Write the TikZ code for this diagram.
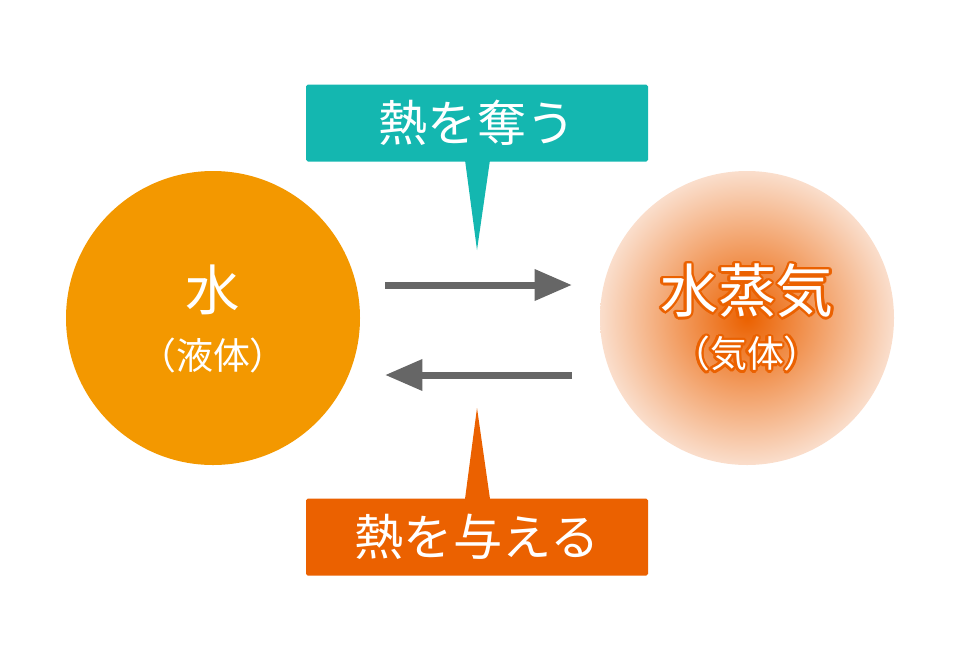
\documentclass[tikz,border=0pt]{standalone}
\usepackage{fontspec}
\setmainfont{Noto Sans CJK JP}
\usepackage[copies]{contour}
\contourlength{1.4pt}
\definecolor{water}{RGB}{243,152,0}
\definecolor{steam}{RGB}{235,97,0}
\definecolor{haze}{RGB}{250,222,204}
\definecolor{teal}{RGB}{20,183,176}
\definecolor{arrowgray}{RGB}{102,102,102}
\tikzset{
    label box/.style={minimum width=342*0.02cm, minimum height=77*0.02cm, rounded corners=1pt, text=white, font=\fontsize{28}{28}\selectfont},
    flow/.style={line width=7*0.02cm, arrowgray, -{Triangle[length=0.75cm,width=0.6cm]}}
}
\usetikzlibrary{arrows.meta}
\begin{document}
\begin{tikzpicture}[x=0.02cm,y=-0.02cm]
    \useasboundingbox (0,0) rectangle (960,660);
    % liquid
    \fill[water] (213,318) circle (147);
    \node (water) at (213,290) {\color{white}\fontsize{31}{31}\selectfont 水};
    \node (waterstate) at (213,355) {\color{white}\fontsize{21}{21}\selectfont （液体）};
    % vapour
    \shade[inner color=steam, outer color=haze] (747,318) circle (147);
    \node (steam) at (747,292) {\fontsize{33}{33}\selectfont\contour{steam}{\color{white}水蒸気}};
    \node (steamstate) at (747,355) {\fontsize{21}{21}\selectfont\contour{steam}{\color{white}（気体）}};
    % arrows
    \coordinate (a1) at (385,285);
    \coordinate (b1) at (572,285);
    \coordinate (a2) at (572,375);
    \coordinate (b2) at (385,375);
    \draw[flow] (a1) -- (b1);
    \draw[flow] (a2) -- (b2);
    % callouts
    \node[label box, fill=teal] (take) at (477,123) {熱を奪う};
    \fill[teal] (465,160) -- (477,250) -- (490,160) -- cycle;
    \node[label box, fill=steam] (give) at (477,537) {熱を与える};
    \fill[steam] (465,499) -- (477,408) -- (490,499) -- cycle;
\end{tikzpicture}
\end{document}
